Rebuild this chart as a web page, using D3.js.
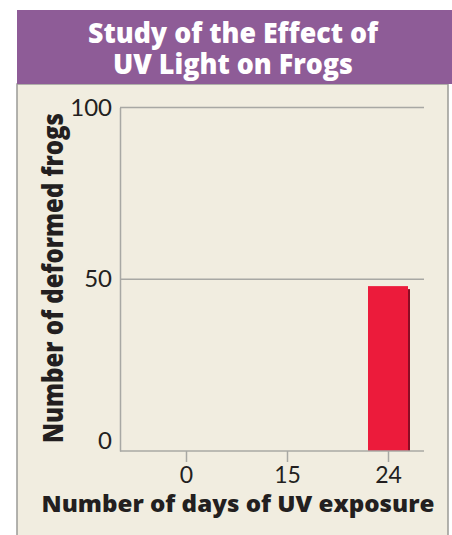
<!DOCTYPE html>
<html>
<head>
<meta charset="utf-8">
<script src="https://cdn.jsdelivr.net/npm/d3@7"></script>
<style>
  body { margin: 0; background: #fff; }
  text { font-family: "Open Sans", Lato, sans-serif; fill: #231f20; }
  .bold { font-weight: 800; }
</style>
</head>
<body>
<svg width="452" height="535"></svg>
<script>
// chart data
const titleLines = ["Study of the Effect of", "UV Light on Frogs"];
const days = ["0", "15", "24"];
const deformed = [0, 0, 48];
const yTicks = [0, 50, 100];
const xTitle = "Number of days of UV exposure";
const yTitle = "Number of deformed frogs";

const svg = d3.select("svg");

// squeeze a text to a given width (the original face is narrower)
function fitWidth(sel, w) {
  const natural = sel.node().getComputedTextLength();
  if (Math.abs(natural - w) > 2) {
    sel.attr("textLength", w).attr("lengthAdjust", "spacingAndGlyphs");
  }
}

// panel + header
svg.append("rect")
  .attr("x", 17).attr("y", 84)
  .attr("width", 431).attr("height", 460)
  .attr("fill", "#f1ede0")
  .attr("stroke", "#9a9a96")
  .attr("stroke-width", 1.5);

svg.append("rect")
  .attr("x", 17).attr("y", 10)
  .attr("width", 435).attr("height", 74)
  .attr("fill", "#8e5c97");

// title: one text, two lines
const titleWidths = [290, 240];
const title = svg.append("text")
  .attr("class", "bold")
  .attr("text-anchor", "middle")
  .style("fill", "#fff")
  .style("font-size", "28px");

title.selectAll("tspan")
  .data(titleLines)
  .enter()
  .append("tspan")
  .attr("x", 233)
  .attr("y", (d, i) => 43 + i * 31)
  .text(d => d)
  .each(function(d, i) { fitWidth(d3.select(this), titleWidths[i]); });

// scales
const x = d3.scalePoint()
  .domain(days)
  .range([186, 388]);

const y = d3.scaleLinear()
  .domain([0, 100])
  .range([451, 107.5]);

const barW = 40;

// gridlines
svg.selectAll(".grid")
  .data(yTicks.filter(d => d > 0))
  .enter()
  .append("line")
  .attr("x1", 120).attr("x2", 424)
  .attr("y1", d => y(d)).attr("y2", d => y(d))
  .attr("stroke", "#a8a8a4")
  .attr("stroke-width", 1.5);

// bars with shadow
svg.selectAll(".shadow")
  .data(deformed)
  .enter()
  .append("rect")
  .attr("x", (d, i) => x(days[i]) - barW / 2 + 2)
  .attr("y", d => y(d) + 3)
  .attr("width", barW)
  .attr("height", d => d > 0 ? y(0) - y(d) - 3 : 0)
  .attr("fill", "#8c0c24");

svg.selectAll(".bar")
  .data(deformed)
  .enter()
  .append("rect")
  .attr("x", (d, i) => x(days[i]) - barW / 2)
  .attr("y", d => y(d))
  .attr("width", barW)
  .attr("height", d => y(0) - y(d))
  .attr("fill", "#ec1b3b");

// y axis
const yAxis = svg.append("g")
  .attr("transform", "translate(120,0)")
  .call(d3.axisLeft(y).tickValues(yTicks).tickSize(0).tickPadding(8));

yAxis.select(".domain").attr("stroke", "#a8a8a4").attr("stroke-width", 1.5);
yAxis.selectAll("text")
  .style("font-size", "24px")
  .style("font-family", "Lato, sans-serif")
  .attr("fill", "#231f20")
  .attr("dy", d => d === 0 ? "-0.1em" : "0.32em");

// x axis
const xAxis = svg.append("g")
  .attr("transform", "translate(0,451)")
  .call(d3.axisBottom(x).tickSize(11).tickPadding(5).tickSizeOuter(0));

xAxis.select(".domain")
  .attr("d", "M120,0H424")
  .attr("stroke", "#a8a8a4").attr("stroke-width", 1.5);
xAxis.selectAll(".tick line").attr("stroke", "#a8a8a4").attr("stroke-width", 1.5);
xAxis.selectAll("text")
  .style("font-size", "23px")
  .style("font-family", "Lato, sans-serif")
  .attr("fill", "#231f20")
  .attr("dy", "0.7em");

// axis titles
svg.append("text")
  .attr("class", "bold")
  .attr("x", 238)
  .attr("y", 512)
  .attr("text-anchor", "middle")
  .style("font-size", "23px")
  .text(xTitle)
  .call(fitWidth, 393);

svg.append("text")
  .attr("class", "bold")
  .attr("transform", "translate(63,278) rotate(-90)")
  .attr("text-anchor", "middle")
  .style("font-size", "28px")
  .text(yTitle)
  .call(fitWidth, 330);
</script>
</body>
</html>
